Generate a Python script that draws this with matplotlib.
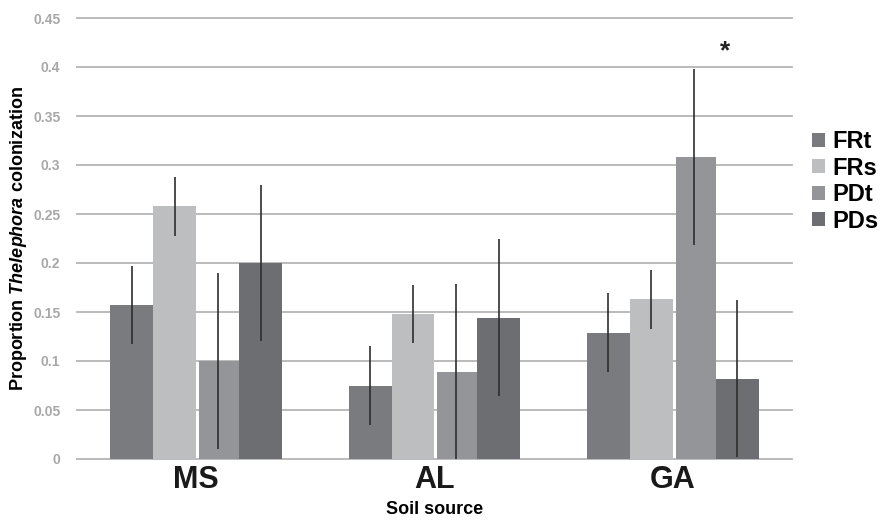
import numpy as np
import matplotlib
matplotlib.use("Agg")
import matplotlib.pyplot as plt
from matplotlib.patches import Patch

plt.rcParams['font.family'] = ['Liberation Sans', 'DejaVu Sans']
plt.rcParams['mathtext.fontset'] = 'custom'
plt.rcParams['mathtext.it'] = 'Liberation Sans:italic:bold'
plt.rcParams['mathtext.rm'] = 'Liberation Sans:bold'

# data
sites = ["MS", "AL", "GA"]
series = ["FRt", "FRs", "PDt", "PDs"]
frt = [0.157, 0.075, 0.129]
frs = [0.258, 0.148, 0.163]
pdt = [0.100, 0.089, 0.308]
pds = [0.200, 0.144, 0.082]
frt_err = [0.040, 0.040, 0.040]
frs_err = [0.030, 0.030, 0.030]
pdt_err = [0.090, 0.090, 0.090]
pds_err = [0.080, 0.080, 0.080]
yticks = [0, 0.05, 0.1, 0.15, 0.2, 0.25, 0.3, 0.35, 0.4, 0.45]
ytick_labels = ["0", "0.05", "0.1", "0.15", "0.2", "0.25", "0.3", "0.35", "0.4", "0.45"]

colors = ["#7a7b7e", "#bdbec0", "#939598", "#6d6e71"]
values = [frt, frs, pdt, pds]
errors = [frt_err, frs_err, pdt_err, pds_err]

fig = plt.figure(figsize=(8.9, 5.23), dpi=100)
ax = fig.add_axes([77/890, 1-459/523, (792-77)/890, (459-18)/523])

x = np.arange(len(sites))
w = 0.18
gap = 0.012  # small white gap before the PDt bars
lefts = [-2*w, -w, 0, w]
for k in range(4):
    if series[k] == "PDt":
        ax.bar(x + lefts[k] + gap, values[k], w - gap, align="edge", color=colors[k], linewidth=0, zorder=2)
    else:
        ax.bar(x + lefts[k], values[k], w, align="edge", color=colors[k], linewidth=0, zorder=2)
for k in range(4):
    ax.errorbar(x + lefts[k] + w/2, values[k], yerr=errors[k], fmt="none",
                ecolor="#2e2e2e", elinewidth=1.2, capsize=0, zorder=4)

# significance mark
ax.text(2 + 0.22, 0.416, "*", ha="center", va="center", fontsize=19, fontweight="bold", color="#222222")

ax.set_xlim(-0.5, 2.5)
ax.set_ylim(0, 0.45)
ax.set_yticks(yticks)
ax.set_yticklabels(ytick_labels, color="#a8a8a8", fontsize=10, fontweight="bold")
ax.set_xticks(x)
ax.set_xticklabels(sites, fontsize=22, fontweight="bold", color="#1a1a1a")
ax.tick_params(axis="both", length=0)
ax.tick_params(axis="y", pad=12)
ax.tick_params(axis="x", pad=4)
for s in ax.spines.values():
    s.set_visible(False)
ax.set_axisbelow(True)
for yv in yticks:
    ax.axhline(yv, color="#b5b5b5", linewidth=1.3, zorder=1, clip_on=False)

ax.set_ylabel(r"Proportion $\mathit{Thelephora}$ colonization", fontsize=13, fontweight="bold", labelpad=3)
ax.set_xlabel("Soil source", fontsize=13, fontweight="bold", labelpad=5)

handles = [Patch(facecolor=c, edgecolor="none") for c in colors]
fig.legend(handles, series, loc="upper left", bbox_to_anchor=(812/890, 1-130/523),
           frameon=False, prop={"weight": "bold", "size": 17},
           handlelength=0.55, handleheight=0.55, handletextpad=0.3, labelspacing=0.15,
           borderaxespad=0, borderpad=0)

fig.savefig("out.png", dpi=100)
